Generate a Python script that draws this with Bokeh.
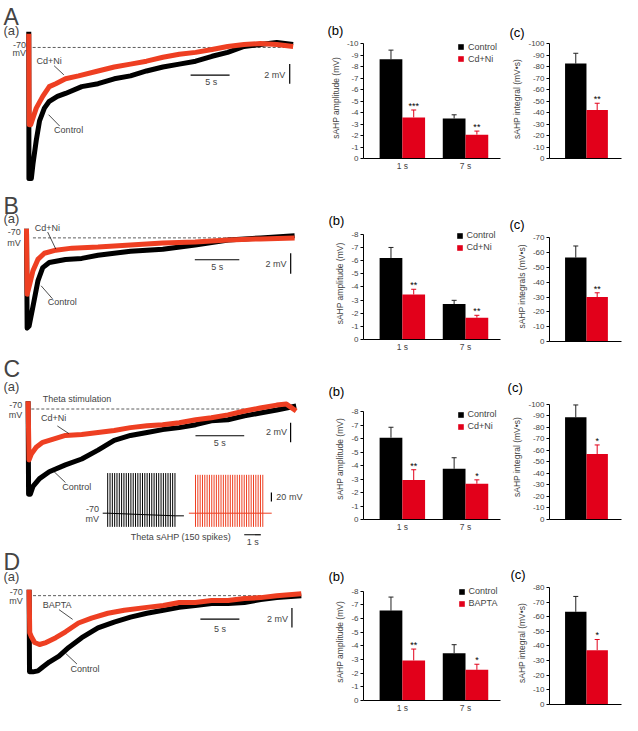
from bokeh.plotting import figure
from bokeh.models import (Range1d, Label, Legend, LegendItem, Whisker,
                          TeeHead, ColumnDataSource, FixedTicker, CustomJSTickFormatter)
from bokeh.layouts import row, column
from bokeh.transform import dodge
from bokeh.core.properties import value
from bokeh.embed import file_html
from bokeh.resources import INLINE

# ---------------- DATA ----------------
# Traces: time (s) and membrane potential (mV)
A_ctrl_t = [0, 0.02, 0.33, 0.54, 0.96, 1.38, 2.0, 2.63, 3.67, 4.71, 6.79, 8.88, 10.96, 13.04, 15.1, 17.2, 19.3, 21.4, 23.5, 25.5, 27.6, 29.7, 31.8, 33.9]
A_ctrl_v = [-68.4, -83.4, -83.4, -81.9, -79.5, -77.5, -76.2, -75.5, -75.0, -74.7, -74.0, -73.7, -73.2, -72.9, -72.4, -72.0, -71.7, -71.4, -70.9, -70.5, -69.9, -69.7, -69.5, -69.7]
A_drug_t = [0, 0.05, 0.25, 0.96, 1.79, 2.63, 3.46, 4.71, 6.38, 8.88, 10.96, 13.04, 15.1, 17.2, 19.3, 21.4, 23.5, 25.5, 27.6, 29.7, 31.8, 33.9]
A_drug_v = [-68.6, -77.9, -77.9, -76.2, -75.0, -74.0, -73.7, -73.2, -72.9, -72.4, -72.0, -71.7, -71.4, -71.0, -70.7, -70.5, -70.2, -69.9, -69.7, -69.6, -69.7, -69.9]

B_ctrl_t = [0, 0.07, 0.29, 0.72, 1.27, 1.81, 2.54, 4.35, 6.16, 7.97, 11.6, 15.2, 18.8, 22.5, 26.1, 29.9]
B_ctrl_v = [-69.1, -78.8, -78.6, -76.7, -74.2, -72.9, -72.4, -72.1, -72.0, -71.7, -71.3, -71.1, -70.7, -70.2, -70.0, -69.8]
B_drug_t = [0, 0.07, 0.36, 0.72, 1.27, 1.99, 3.26, 5.07, 7.97, 11.6, 15.2, 18.8, 22.5, 26.1, 29.9]
B_drug_v = [-69.1, -75.5, -74.5, -73.2, -72.1, -71.5, -71.2, -71.0, -70.9, -70.7, -70.5, -70.4, -70.2, -70.1, -70.0]

C_ctrl_t = [0, 0.05, 0.23, 0.5, 1.17, 2.17, 3.83, 5.5, 7.17, 8.83, 10.5, 12.2, 13.8, 15.5, 17.2, 18.8, 20.5, 22.2, 23.8, 25.5, 27.5]
C_ctrl_v = [-69.2, -78.7, -78.7, -77.9, -77.1, -76.4, -75.7, -75.1, -74.2, -73.2, -72.7, -72.4, -72.1, -71.9, -71.6, -71.2, -71.1, -70.7, -70.4, -70.1, -69.7]
C_drug_t = [0, 0.1, 0.33, 0.83, 1.5, 2.5, 3.83, 5.5, 7.17, 8.83, 10.5, 12.2, 13.8, 15.5, 17.2, 18.8, 20.5, 22.2, 23.8, 25.5, 26.5, 27.5]
C_drug_v = [-69.2, -75.2, -74.6, -73.9, -73.4, -73.1, -72.7, -72.6, -72.4, -72.2, -71.9, -71.7, -71.6, -71.4, -71.1, -70.9, -70.6, -70.2, -69.9, -69.6, -69.5, -70.2]

D_ctrl_t = [0, 0.05, 0.5, 1.13, 1.75, 2.58, 3.83, 5.08, 6.75, 8.83, 10.9, 13.0, 15.1, 17.2, 19.25, 21.3, 23.4, 25.5, 27.6, 29.7, 31.75, 34.9]
D_ctrl_v = [-69.4, -77.8, -77.8, -77.7, -77.3, -76.8, -76.2, -75.3, -74.3, -73.3, -72.7, -72.2, -71.8, -71.5, -71.2, -71.0, -70.8, -70.8, -70.7, -70.4, -70.2, -70.0]
D_drug_t = [0, 0.08, 0.29, 0.71, 1.33, 2.17, 3.42, 4.67, 6.33, 8.0, 10.1, 12.2, 15.1, 17.2, 19.25, 21.3, 23.4, 25.5, 27.6, 29.7, 31.75, 34.9]
D_drug_v = [-69.4, -73.8, -74.2, -74.8, -75.0, -74.8, -74.3, -73.7, -72.8, -72.3, -71.8, -71.5, -71.2, -71.0, -70.7, -70.7, -70.5, -70.5, -70.3, -70.2, -70.0, -69.8]

# Inset (C): theta burst train, times of bursts (s)
theta_times = [0.00, 0.14, 0.28, 0.42, 0.56, 0.70, 0.84, 0.98, 1.12, 1.26, 1.40, 1.54, 1.68, 1.82, 1.96,
               2.10, 2.24, 2.38, 2.52, 2.66, 2.80, 2.94, 3.08, 3.22, 3.36, 3.50, 3.64, 3.78, 3.92, 4.06]
theta_peak_ctrl = 21
theta_peak_drug = 17
theta_trough = -101
inset_base_ctrl_t = [-0.3, 0.0, 2.0, 4.1, 4.6]
inset_base_ctrl_v = [-70, -70, -73, -76, -76]
inset_base_drug_t = [-0.4, 4.6]
inset_base_drug_v = [-70, -70]

# Bars
time_points = ["1 s", "7 s"]
A_amp_ctrl = [-8.65, -3.49]; A_amp_ctrl_err = [0.8, 0.32]
A_amp_drug = [-3.58, -2.08]; A_amp_drug_err = [0.65, 0.31]
A_amp_sig = ["***", "**"]
A_int = [-82.8, -42.3]; A_int_err = [9.0, 5.9]; A_int_sig = "**"

B_amp_ctrl = [-6.2, -2.7]; B_amp_ctrl_err = [0.8, 0.28]
B_amp_drug = [-3.42, -1.66]; B_amp_drug_err = [0.4, 0.18]
B_amp_sig = ["**", "**"]
B_int = [-56.7, -30.0]; B_int_err = [7.8, 2.9]; B_int_sig = "**"

C_amp_ctrl = [-6.07, -3.76]; C_amp_ctrl_err = [0.77, 0.82]
C_amp_drug = [-2.92, -2.65]; C_amp_drug_err = [0.77, 0.29]
C_amp_sig = ["**", "*"]
C_int = [-88.7, -56.8]; C_int_err = [10.7, 7.9]; C_int_sig = "*"

D_amp_ctrl = [-6.57, -3.46]; D_amp_ctrl_err = [0.99, 0.62]
D_amp_drug = [-2.93, -2.24]; D_amp_drug_err = [0.83, 0.41]
D_amp_sig = ["**", "*"]
D_int = [-63.3, -37.1]; D_int_err = [10.5, 7.3]; D_int_sig = "*"

# ---------------- STYLE ----------------
FONT = "Liberation Sans"
BLACK = "#000000"
RED_TRACE = "#ee3f22"
RED_BAR = "#e2001a"
SX = 622 / 638
SY = 715 / 731
W_TR, W_B, W_C = 310, 192, 120


def lab(p, x, y, text, size="9px", align="left", baseline="middle", units="data", **kw):
    p.add_layout(Label(x=x, y=y, text=text, text_font=FONT, text_font_size=size,
                       text_align=align, text_baseline=baseline,
                       x_units=units, y_units=units, **kw))


def trace_fig(h, xr, yr, letter, letter_base, a_base):
    p = figure(width=W_TR, height=h, x_range=Range1d(*xr), y_range=Range1d(*yr),
               x_axis_location=None, y_axis_location=None, toolbar_location=None,
               output_backend="svg", min_border=0)
    p.grid.visible = False
    p.outline_line_color = None
    lab(p, 3, h - letter_base * SY, letter, size="23px", baseline="alphabetic", units="screen")
    lab(p, 3, h - a_base * SY, "(a)", size="13px", baseline="alphabetic", units="screen")
    return p


def draw_traces(p, ct, cv, dt, dv, t0, t1):
    p.line([t0, t1], [-70, -70], line_color="#333333", line_width=0.8, line_dash="3 2")
    p.line(ct, cv, line_color=BLACK, line_width=5, line_join="round")
    p.line(dt, dv, line_color=RED_TRACE, line_width=5, line_join="round")


def annot(p, lx, mv_y, drug, drug_xy, drug_lead, ctrl_xy, ctrl_lead, sb5, sb5_txt, sb2, sb2_txt):
    lab(p, lx, mv_y[0], "-70", align="right")
    lab(p, lx, mv_y[1], "mV", align="right")
    lab(p, drug_xy[0], drug_xy[1], drug)
    p.line(drug_lead[0], drug_lead[1], line_color=BLACK, line_width=0.7)
    lab(p, ctrl_xy[0], ctrl_xy[1], "Control")
    p.line(ctrl_lead[0], ctrl_lead[1], line_color=BLACK, line_width=0.7)
    p.line(sb5[0], sb5[1], line_color=BLACK, line_width=1.2)
    lab(p, sb5_txt[0], sb5_txt[1], "5 s", align="center")
    p.line(sb2[0], sb2[1], line_color=BLACK, line_width=1.2)
    lab(p, sb2_txt[0], sb2_txt[1], "2 mV", align="right")


def panel_title(p, text, offset_ref):
    p.title.text = text
    p.title.align = "left"
    p.title.offset = offset_ref * SX
    p.title.standoff = 0
    p.title.text_font = FONT
    p.title.text_font_size = "13px"
    p.title.text_font_style = "normal"
    p.title.text_color = BLACK
    p.title.vertical_align = "bottom"


def style_axes(p, ymax, tick_step):
    p.grid.visible = False
    p.outline_line_color = None
    for ax in p.axis:
        ax.axis_line_color = BLACK
        ax.axis_line_width = 1
        ax.major_label_text_font = FONT
        ax.major_label_text_font_size = "8px"
        ax.major_label_standoff = 2
        ax.minor_tick_line_color = None
        ax.axis_label_text_font = FONT
        ax.axis_label_text_font_style = "normal"
        ax.axis_label_text_font_size = "8.5px"
    p.yaxis.major_tick_out = 3
    p.yaxis.major_tick_in = 0
    p.yaxis.major_tick_line_color = BLACK
    p.yaxis.axis_label_standoff = 3
    p.yaxis.bounds = (ymax, 0)
    p.yaxis.ticker = FixedTicker(ticks=list(range(0, int(ymax) - 1, -tick_step)))
    p.yaxis.formatter = CustomJSTickFormatter(code="return tick.toString();")
    p.xaxis.major_tick_line_color = None
    p.xaxis.major_tick_out = 0


def y_end(ymax, tick_top, zero, frame_top):
    return ymax * (zero - frame_top) / (zero - tick_top)


def bar_b(h_ref, frame_top, tick_top, zero, ymax, ctrl, ctrl_err, drug, drug_err, sig, drug_name,
          b_off, leg_xy):
    h = round(h_ref * SY)
    pos = [i + 1 for i in range(len(time_points))]
    p = figure(width=W_B, height=h, x_range=Range1d(0.385, 2.554),
               y_range=Range1d(0, y_end(ymax, tick_top, zero, frame_top)), toolbar_location=None,
               output_backend="svg",
               min_border_left=round(54 * SX), min_border_right=2,
               min_border_top=round(frame_top * SY), min_border_bottom=h - round(zero * SY))
    src = ColumnDataSource(dict(x=pos, ctrl=ctrl, drug=drug,
                                ctrl_up=[v - e for v, e in zip(ctrl, ctrl_err)],
                                drug_up=[v - e for v, e in zip(drug, drug_err)], sig=sig))
    p.add_layout(Whisker(source=src, base=dodge("x", -0.18), upper="ctrl_up",
                         lower="ctrl", dimension="height", line_color="#222222", line_width=1,
                         upper_head=TeeHead(size=5, line_color="#222222", line_width=1),
                         lower_head=None))
    p.add_layout(Whisker(source=src, base=dodge("x", 0.18), upper="drug_up",
                         lower="drug", dimension="height", line_color=RED_BAR, line_width=1,
                         upper_head=TeeHead(size=5, line_color=RED_BAR, line_width=1),
                         lower_head=None))
    r1 = p.vbar(x=dodge("x", -0.18), top="ctrl", bottom=0, width=0.36,
                source=src, fill_color=BLACK, line_color=None)
    r2 = p.vbar(x=dodge("x", 0.18), top="drug", bottom=0, width=0.36,
                source=src, fill_color=RED_BAR, line_color=None)
    p.text(x=dodge("x", 0.18), y="drug_up", text="sig", source=src,
           text_align="center", text_baseline="bottom", y_offset=1, text_font=value(FONT),
           text_font_size="9px", text_color=BLACK)
    style_axes(p, ymax, 1)
    p.xaxis.ticker = FixedTicker(ticks=pos)
    p.xaxis.major_label_overrides = {k: t for k, t in zip(pos, time_points)}
    p.yaxis.axis_label = "sAHP amplitude (mV)"
    p.xaxis.major_label_text_font_size = "8.5px"
    leg = Legend(items=[LegendItem(label="Control", renderers=[r1]),
                        LegendItem(label=drug_name, renderers=[r2])],
                 location=(leg_xy[0] * SX, leg_xy[1] * SY), glyph_width=7, glyph_height=7,
                 label_text_font=FONT, label_text_font_size="9px", label_standoff=4,
                 label_height=9, spacing=2, padding=0, margin=0, border_line_color=None,
                 background_fill_alpha=0)
    p.add_layout(leg)
    panel_title(p, "(b)", b_off)
    return p


def bar_c(h_ref, frame_top, tick_top, zero, ymax, tick_step, vals, errs, sig, drug_name, ylabel, c_off):
    h = round(h_ref * SY)
    cats = ["Control", drug_name]
    p = figure(width=W_C, height=h, x_range=Range1d(-1.227, 2.136),
               y_range=Range1d(0, y_end(ymax, tick_top, zero, frame_top)), toolbar_location=None,
               output_backend="svg",
               min_border_left=round(48 * SX), min_border_right=1,
               min_border_top=round(frame_top * SY), min_border_bottom=h - round(zero * SY))
    for i, col in enumerate([BLACK, RED_BAR]):
        s = ColumnDataSource(dict(x=[i], v=[vals[i]], up=[vals[i] - errs[i]], name=[cats[i]]))
        wc = "#222222" if i == 0 else RED_BAR
        p.add_layout(Whisker(source=s, base="x", upper="up", lower="v", dimension="height",
                             line_color=wc, line_width=1,
                             upper_head=TeeHead(size=5, line_color=wc, line_width=1),
                             lower_head=None))
        p.vbar(x="x", top="v", bottom=0, width=1.0, source=s, fill_color=col, line_color=None)
    p.text(x=[1], y=[vals[1] - errs[1]], text=[sig], text_align="center",
           text_baseline="bottom", y_offset=1, text_font=value(FONT), text_font_size="9px")
    style_axes(p, ymax, tick_step)
    p.xaxis.ticker = FixedTicker(ticks=[])
    p.yaxis.axis_label = ylabel
    panel_title(p, "(c)", c_off)
    return p


# ---------------- ROW A ----------------
tA = trace_fig(182, (-3.625, 36.125), (-83.8, -65.2), "A", 17, 31)
draw_traces(tA, A_ctrl_t, A_ctrl_v, A_drug_t, A_drug_v, 0.5, 33)
annot(tA, -0.35, (-69.7, -70.6), "Cd+Ni", (1.0, -71.4), ([3.25, 4.5], [-71.87, -72.8]),
      (3.25, -78.47), ([2.54, 3.96], [-76.87, -78.03]),
      ([20.75, 25.75], [-72.83, -72.83]), (23.4, -73.5),
      ([33.46, 33.46], [-71.7, -73.7]), (32.9, -72.8))
bA = bar_b(186, 37.5, 44, 162, -10, A_amp_ctrl, A_amp_ctrl_err, A_amp_drug, A_amp_drug_err,
           A_amp_sig, "Cd+Ni", -37, (96.5, 96.5))
cA = bar_c(186, 39.5, 44, 162, -100, 10, A_int, A_int_err, A_int_sig, "Cd+Ni",
           "sAHP integral (mV\u2022s)", -41)

# ---------------- ROW B ----------------
tB = trace_fig(168, (-2.9, 31.67), (-80.98, -64.6), "B", 24, 37)
draw_traces(tB, B_ctrl_t, B_ctrl_v, B_drug_t, B_drug_v, 0.72, 29.7)
annot(tB, -0.65, (-69.43, -70.54), "Cd+Ni", (0.91, -69.05), ([2.36, 3.26], [-69.43, -71.08]),
      (2.36, -76.25), ([1.63, 2.9], [-74.67, -75.94]),
      ([18.77, 23.73], [-72.13, -72.13]), (21.27, -72.86),
      ([29.46, 29.46], [-71.49, -73.49]), (28.99, -72.54))
bB = bar_b(185, 46, 53, 161, -8, B_amp_ctrl, B_amp_ctrl_err, B_amp_drug, B_amp_drug_err,
           B_amp_sig, "Cd+Ni", -36, (95, 88.5))
cB = bar_c(185, 50.5, 57, 163, -70, 10, B_int, B_int_err, B_int_sig, "Cd+Ni",
           "sAHP integrals (mV\u2022s)", -41)

# ---------------- ROW C ----------------
tC = trace_fig(197, (-2.83, 28.97), (-84.13, -64.03), "C", 19, 37)
draw_traces(tC, C_ctrl_t, C_ctrl_v, C_drug_t, C_drug_v, 0.33, 26.5)
lab(tC, 1.5, -68.97, "Theta stimulation")
annot(tC, -0.6, (-69.57, -70.57), "Cd+Ni", (1.33, -70.9), ([3.0, 4.17], [-71.73, -72.5]),
      (3.5, -78.0), ([2.67, 3.83], [-76.4, -77.5]),
      ([17.17, 22.17], [-72.73, -72.73]), (19.67, -73.5),
      ([26.93, 26.93], [-71.4, -73.4]), (26.57, -72.33))
tC.extra_x_ranges = {"ix": Range1d(-6.47, 12.24)}
tC.extra_y_ranges = {"iy": Range1d(-147.8, 298.9)}
ins_src = ColumnDataSource(dict(t=theta_times))
tC.line(inset_base_ctrl_t, inset_base_ctrl_v, line_color=BLACK, line_width=1,
        x_range_name="ix", y_range_name="iy")
tC.segment(x0="t", y0=theta_trough, x1="t", y1=theta_peak_ctrl, source=ins_src,
           line_color=BLACK, line_width=1, x_range_name="ix", y_range_name="iy")
base_src = ColumnDataSource(dict(t=inset_base_drug_t, v=inset_base_drug_v))
tC.line(x=dodge("t", 5.3), y="v", source=base_src, line_color=RED_TRACE, line_width=1,
        x_range_name="ix", y_range_name="iy")
tC.segment(x0=dodge("t", 5.3), y0=theta_trough, x1=dodge("t", 5.3), y1=theta_peak_drug,
           source=ins_src, line_color=RED_TRACE, line_width=1, x_range_name="ix", y_range_name="iy")
tC.line([9.88, 9.88], [-23.3, -43.3], line_color=BLACK, line_width=1.2,
        x_range_name="ix", y_range_name="iy")
tC.line([8.24, 9.24], [-118.9, -118.9], line_color=BLACK, line_width=1.2,
        x_range_name="ix", y_range_name="iy")
for (x, y, t, al) in [(10.18, -34.4, "20 mV", "left"), (-0.53, -61.1, "-70", "right"),
                      (-0.53, -83.3, "mV", "right"), (4.41, -123.3, "Theta sAHP (150 spikes)", "center"),
                      (8.76, -134.4, "1 s", "center")]:
    tC.add_layout(Label(x=x, y=y, text=t, text_font=FONT, text_font_size="9px", text_align=al,
                        text_baseline="middle", x_range_name="ix", y_range_name="iy"))
bC = bar_b(180, 35.5, 49, 160, -8, C_amp_ctrl, C_amp_ctrl_err, C_amp_drug, C_amp_drug_err,
           C_amp_sig, "Cd+Ni", -36, (96, 89.8))
cC = bar_c(180, 32, 42, 160, -100, 10, C_int, C_int_err, C_int_sig, "Cd+Ni",
           "sAHP integral (mV\u2022s)", -43)

# ---------------- ROW D ----------------
tD = trace_fig(168, (-3.67, 36.08), (-82.27, -65.07), "D", 15, 30)
draw_traces(tD, D_ctrl_t, D_ctrl_v, D_drug_t, D_drug_v, 0.5, 34.7)
annot(tD, -0.83, (-69.67, -70.5), "BAPTA", (1.75, -71.0), ([3.83, 5.58], [-71.43, -72.43]),
      (5.29, -77.5), ([4.67, 6.13], [-75.9, -77.0]),
      ([21.96, 26.96], [-72.4, -72.4]), (24.46, -73.43),
      ([33.7, 33.7], [-71.27, -73.27]), (33.2, -72.37))
bD = bar_b(180, 45, 53, 169, -8, D_amp_ctrl, D_amp_ctrl_err, D_amp_drug, D_amp_drug_err,
           D_amp_sig, "BAPTA", -36, (97, 94))
cD = bar_c(180, 43, 49, 169, -80, 10, D_int, D_int_err, D_int_sig, "BAPTA",
           "sAHP integral (mV\u2022s)", -40)

layout = row(column(tA, tB, tC, tD, spacing=0), column(bA, bB, bC, bD, spacing=0),
             column(cA, cB, cC, cD, spacing=0), spacing=0)

open("out.html", "w").write(file_html(layout, INLINE))
